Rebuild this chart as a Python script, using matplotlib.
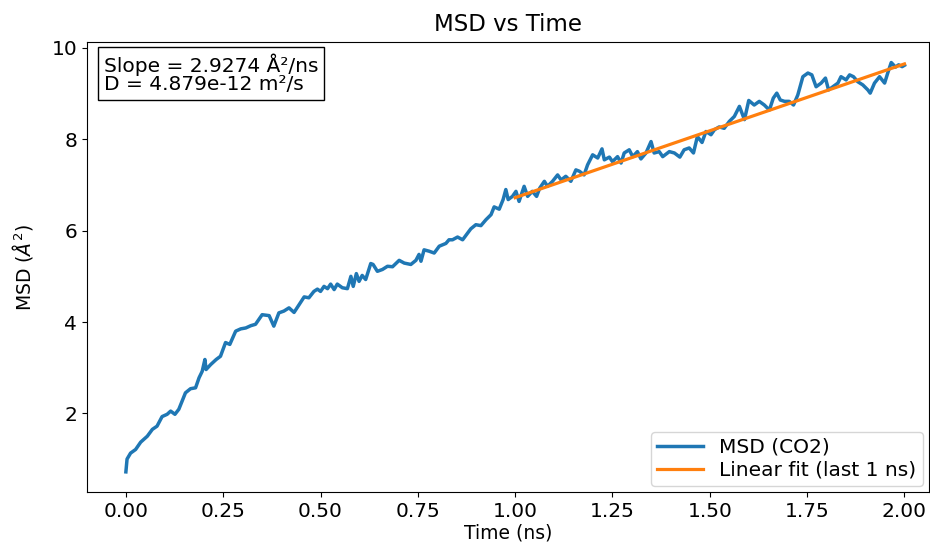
import numpy as np
import matplotlib
matplotlib.use('Agg')
import matplotlib.pyplot as plt

# время (нс) и MSD (Å^2)
time_ns = [0.0, 0.003, 0.012, 0.025, 0.038, 0.055, 0.068, 0.080, 0.093, 0.106,
           0.115, 0.126, 0.136, 0.153, 0.166, 0.179, 0.188, 0.196, 0.203, 0.206,
           0.218, 0.232, 0.243, 0.256, 0.267, 0.282, 0.295, 0.308, 0.321, 0.333,
           0.350, 0.368, 0.380, 0.393, 0.406, 0.419, 0.432, 0.445, 0.458, 0.470,
           0.483, 0.492, 0.500, 0.509, 0.518, 0.526, 0.535, 0.543, 0.556, 0.569,
           0.578, 0.584, 0.592, 0.599, 0.607, 0.616, 0.629, 0.635, 0.646, 0.659,
           0.672, 0.685, 0.702, 0.715, 0.732, 0.745, 0.753, 0.758, 0.766, 0.779,
           0.792, 0.805, 0.822, 0.830, 0.839, 0.852, 0.865, 0.886, 0.899, 0.912,
           0.925, 0.938, 0.946, 0.959, 0.969, 0.976, 0.982, 0.993, 1.002, 1.010,
           1.023, 1.032, 1.044, 1.055, 1.063, 1.075, 1.083, 1.096, 1.109, 1.118,
           1.130, 1.143, 1.156, 1.165, 1.177, 1.186, 1.199, 1.212, 1.223, 1.229,
           1.242, 1.250, 1.263, 1.272, 1.280, 1.293, 1.302, 1.314, 1.323, 1.336,
           1.349, 1.357, 1.370, 1.379, 1.396, 1.409, 1.423, 1.434, 1.447, 1.458,
           1.468, 1.480, 1.490, 1.503, 1.512, 1.524, 1.537, 1.550, 1.563, 1.576,
           1.589, 1.600, 1.614, 1.627, 1.640, 1.653, 1.663, 1.672, 1.681, 1.692,
           1.704, 1.715, 1.726, 1.739, 1.752, 1.762, 1.773, 1.786, 1.797, 1.805,
           1.816, 1.829, 1.837, 1.850, 1.859, 1.869, 1.880, 1.893, 1.906, 1.912,
           1.923, 1.936, 1.949, 1.957, 1.966, 1.977, 1.985, 1.994, 2.0]
msd = [0.72, 1.00, 1.13, 1.21, 1.37, 1.50, 1.65, 1.72, 1.93, 1.98,
       2.05, 1.98, 2.09, 2.45, 2.54, 2.56, 2.78, 2.92, 3.18, 2.96,
       3.07, 3.18, 3.25, 3.55, 3.51, 3.80, 3.85, 3.87, 3.92, 3.95,
       4.16, 4.14, 3.91, 4.20, 4.24, 4.31, 4.21, 4.38, 4.55, 4.53,
       4.67, 4.72, 4.67, 4.78, 4.73, 4.83, 4.71, 4.83, 4.75, 4.73,
       5.00, 4.78, 5.06, 4.89, 5.02, 4.93, 5.28, 5.26, 5.11, 5.15,
       5.22, 5.21, 5.35, 5.29, 5.26, 5.35, 5.48, 5.33, 5.58, 5.55,
       5.51, 5.66, 5.72, 5.80, 5.80, 5.86, 5.80, 6.04, 6.13, 6.11,
       6.24, 6.35, 6.52, 6.47, 6.68, 6.90, 6.68, 6.75, 6.86, 6.64,
       6.97, 6.75, 6.86, 6.75, 6.93, 7.08, 6.97, 7.08, 7.22, 7.11,
       7.19, 7.08, 7.33, 7.30, 7.22, 7.44, 7.66, 7.59, 7.79, 7.55,
       7.61, 7.51, 7.62, 7.48, 7.70, 7.77, 7.62, 7.73, 7.57, 7.70,
       7.95, 7.70, 7.73, 7.62, 7.73, 7.70, 7.61, 7.77, 7.81, 7.70,
       8.06, 7.93, 8.17, 8.10, 8.21, 8.27, 8.24, 8.39, 8.50, 8.72,
       8.43, 8.85, 8.75, 8.83, 8.75, 8.64, 8.90, 9.01, 8.86, 8.83,
       8.83, 8.75, 8.97, 9.37, 9.45, 9.41, 9.15, 9.23, 9.34, 9.08,
       9.15, 9.23, 9.37, 9.30, 9.41, 9.37, 9.26, 9.19, 9.08, 9.01,
       9.23, 9.37, 9.23, 9.45, 9.68, 9.58, 9.63, 9.59, 9.62]

# линейная аппроксимация по последней наносекунде
slope = 2.9274
intercept = 3.795
fit_range = [1.0, 2.0]
D_value = 4.879e-12

fig = plt.figure(figsize=(9.3, 5.43), dpi=100)
ax = fig.add_axes([0.0935, 0.094, 0.905, 0.8287])

ax.plot(time_ns, msd, color='#1f77b4', lw=2.5, label='MSD (CO2)')
t_fit = np.array(fit_range)
ax.plot(t_fit, slope * t_fit + intercept, color='#ff7f0e', lw=2.3, label='Linear fit (last 1 ns)')

ax.set_xlim(-0.1, 2.062)
ax.set_ylim(0.28, 10.13)
ax.set_xticks([0.0, 0.25, 0.5, 0.75, 1.0, 1.25, 1.5, 1.75, 2.0])
ax.set_xticklabels(['0.00', '0.25', '0.50', '0.75', '1.00', '1.25', '1.50', '1.75', '2.00'])
ax.set_yticks([2, 4, 6, 8, 10])
ax.tick_params(labelsize=14.5)

ax.set_title('MSD vs Time', fontsize=16.5, pad=8)
ax.set_xlabel('Time (ns)', fontsize=13.5, labelpad=2)
ax.set_ylabel(r'MSD ($\AA^2$)', fontsize=13.5, labelpad=12)

ax.text(0.02, 0.975, 'Slope = %.4f Å²/ns\nD = %.3e m²/s' % (slope, D_value),
        transform=ax.transAxes, va='top', ha='left', fontsize=14.5, linespacing=0.92,
        bbox=dict(facecolor='white', edgecolor='black', boxstyle='square,pad=0.3'))

ax.legend(loc='lower right', fontsize=14.5, labelspacing=0.2, borderpad=0.3,
          handlelength=2.3, borderaxespad=0.3)

fig.savefig('out.png', dpi=100)
